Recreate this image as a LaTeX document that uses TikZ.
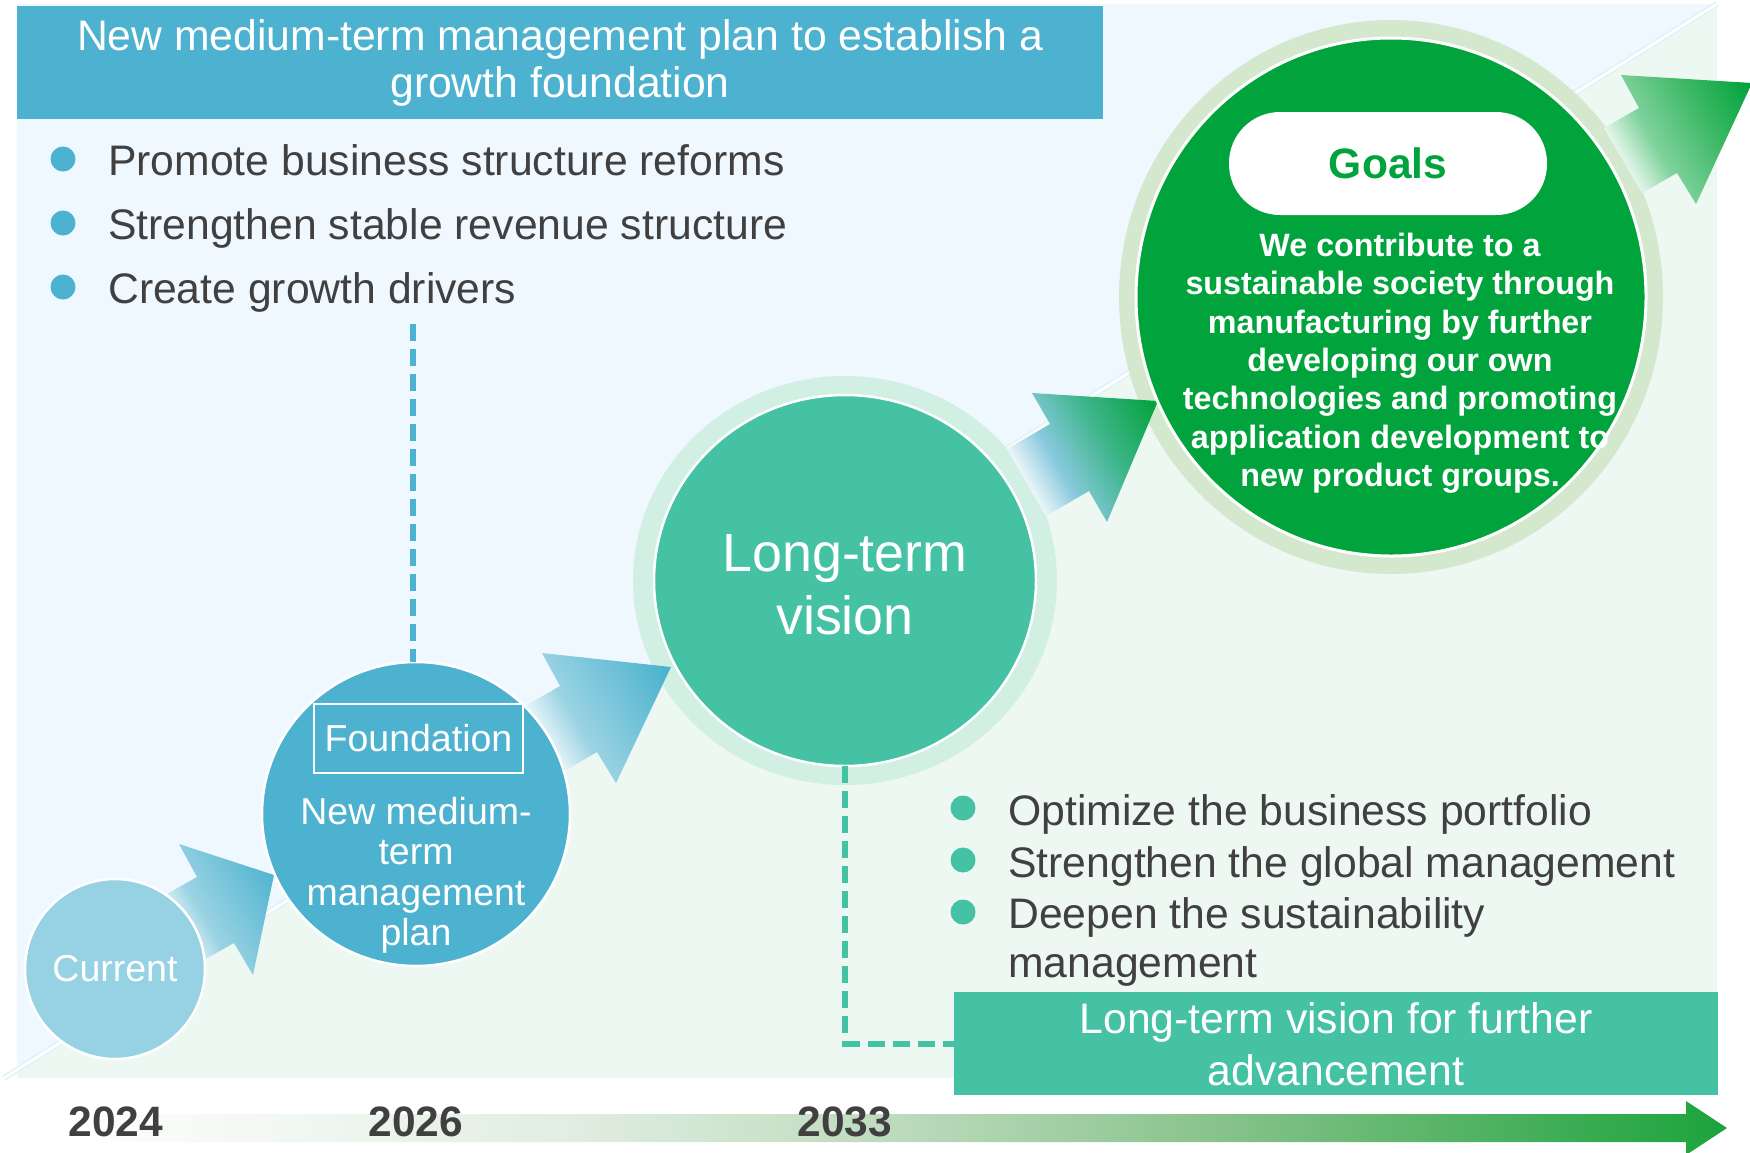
\documentclass[tikz,border=0pt]{standalone}
\usepackage{fontspec}
\setmainfont{Liberation Sans}
\usetikzlibrary{shapes.geometric,calc}
\definecolor{cblue}{HTML}{4DB2CF}
\definecolor{clight}{HTML}{96D2E4}
\definecolor{cmint}{HTML}{45C1A4}
\definecolor{cmintHalo}{HTML}{D2EFE3}
\definecolor{cgreen}{HTML}{00A33C}
\definecolor{cgreenHalo}{HTML}{D4E8CE}
\definecolor{bgblue}{HTML}{EFF8FE}
\definecolor{bggreen}{HTML}{EEF8F3}
\definecolor{diagcyan}{HTML}{E2F3F8}
\definecolor{ctext}{HTML}{404040}
\definecolor{tlA}{HTML}{E2EEE2}
\definecolor{tlB}{HTML}{BEDBBE}
\definecolor{tlC}{HTML}{86C28A}
\definecolor{tlD}{HTML}{1BA33C}
\definecolor{baA}{HTML}{9AD3E3}
\definecolor{baB}{HTML}{4DB2CF}
\definecolor{gaA}{HTML}{88C9DD}
\definecolor{gaB}{HTML}{3DB58A}
\definecolor{gaC}{HTML}{07A442}
\definecolor{oaA}{HTML}{7ED29C}
\definecolor{oaB}{HTML}{3DB865}
\definecolor{oaC}{HTML}{00A33C}
\pgfdeclarehorizontalshading{timeline}{100bp}{color(0bp)=(white); color(25bp)=(white); color(40bp)=(tlA); color(50bp)=(tlB); color(60bp)=(tlC); color(75bp)=(tlD); color(100bp)=(tlD)}
\pgfdeclarehorizontalshading{bluearrow}{100bp}{color(0bp)=(white); color(28bp)=(white); color(44bp)=(baA); color(80bp)=(baB); color(100bp)=(baB)}
\pgfdeclarehorizontalshading{mixarrow}{100bp}{color(0bp)=(white); color(26bp)=(white); color(41bp)=(gaA); color(60bp)=(gaB); color(80bp)=(gaC); color(100bp)=(gaC)}
\pgfdeclarehorizontalshading{greenarrow}{100bp}{color(0bp)=(white); color(26bp)=(white); color(42bp)=(oaA); color(62bp)=(oaB); color(82bp)=(oaC); color(100bp)=(oaC)}
\begin{document}
\begin{tikzpicture}[x=1pt,y=-1pt,
  txt/.style={font=\fontsize{42.7}{47}\selectfont, text=ctext, inner sep=0pt, anchor=base west},
  wtxt/.style={font=\fontsize{42.7}{47}\selectfont, text=white, inner sep=0pt, anchor=base},
  gtxt/.style={font=\fontsize{32.3}{38}\selectfont\bfseries, text=white, inner sep=0pt, anchor=base},
  ftxt/.style={font=\fontsize{37.5}{40}\selectfont, text=white, inner sep=0pt, anchor=base},
  vtxt/.style={font=\fontsize{53.8}{63}\selectfont, text=white, inner sep=0pt, anchor=base},
  year/.style={font=\fontsize{42.5}{47}\selectfont\bfseries, text=ctext, inner sep=0pt, anchor=base},
  dotb/.style={circle, fill=cblue, minimum size=25pt, inner sep=0pt},
  dotg/.style={circle, fill=cmint, minimum size=25pt, inner sep=0pt},
  disc/.style={ellipse, inner sep=0pt, outer sep=0pt, draw=white, line width=2.5pt},
  halo/.style={ellipse, inner sep=0pt, outer sep=0pt},
  dashline/.style={line width=6pt, dash pattern=on 17pt off 8pt}]
\useasboundingbox (0,0) rectangle (1750,1152);
% background
\fill[bggreen] (17,4) rectangle (1717,1078);
\fill[bgblue] (17,4) -- (1717,4) -- (17,1070) -- cycle;
\draw[diagcyan, line width=6pt] (4,1078) -- (1717,4);
\draw[white, line width=2.5pt] (4,1078) -- (1717,4);
% timeline
\shade[shading=timeline] (57,1114) -- (1686,1114) -- (1686,1101) -- (1727,1128) -- (1686,1155) -- (1686,1142) -- (57,1142) -- cycle;
% halos
\node[halo, fill=cmintHalo, minimum width=424pt, minimum height=409pt] (lthalo) at (845,580.5) {};
\node[halo, fill=cgreenHalo, minimum width=544pt, minimum height=554pt] (ghalo) at (1391,297) {};
% arrows
\shade[shading=bluearrow, shading angle=30] (158,899) -- (197,877) -- (179,844) -- (274,875) -- (253,975) -- (234,943) -- (195,965) -- cycle;
\shade[shading=bluearrow, shading angle=30] (517,711) -- (560,686) -- (542,653) -- (671,667) -- (616,783) -- (597,752) -- (554,777) -- cycle;
\shade[shading=mixarrow, shading angle=30] (1007,449) -- (1050,424) -- (1032,393) -- (1158,401) -- (1107,522) -- (1089,491) -- (1046,516) -- cycle;
\shade[shading=greenarrow, shading angle=30] (1604,128) -- (1639,108) -- (1621,75) -- (1752,83) -- (1696,204) -- (1677,173) -- (1642,193) -- cycle;
% circles
\node[disc, fill=clight, minimum width=180pt, minimum height=180pt,
  font=\fontsize{37.5}{42}\selectfont, text=white] (cur) at (115,969) {Current};
\node[disc, fill=cblue, minimum width=308pt, minimum height=304pt] (found) at (416,814) {};
\node[disc, fill=cmint, minimum width=382pt, minimum height=371pt] (lt) at (845,580.5) {};
\node[disc, fill=cgreen, line width=3pt, minimum width=510pt, minimum height=518pt] (goal) at (1391,297) {};
% top banner
\node[rectangle, fill=cblue, inner sep=0pt, minimum width=1086pt, minimum height=113pt] (banner) at (560,62.5) {};
\node[wtxt] (t1) at (560,50) {New medium-term management plan to establish a};
\node[wtxt] (t2) at (560,97) {growth foundation};
% top bullets
\node[dotb] (b1) at (63,159) {};
\node[dotb] (b2) at (63,223) {};
\node[dotb] (b3) at (63,287) {};
\node[txt] (l1) at (108,175) {Promote business structure reforms};
\node[txt] (l2) at (108,239) {Strengthen stable revenue structure};
\node[txt] (l3) at (108,303) {Create growth drivers};
% foundation contents
\node[rectangle, draw=white, line width=2pt, inner sep=0pt, minimum width=209pt, minimum height=69pt,
  font=\fontsize{37.5}{42}\selectfont, text=white] (fbox) at (418.5,738.5) {Foundation};
\node[ftxt] (f1) at (416,824) {New medium-};
\node[ftxt] (f2) at (416,864.5) {term};
\node[ftxt] (f3) at (416,905) {management};
\node[ftxt] (f4) at (416,945) {plan};
% long-term vision text
\node[vtxt] (v1) at (845,571) {Long-term};
\node[vtxt] (v2) at (845,634) {vision};
% goals
\node[rectangle, fill=white, rounded corners=51pt, inner sep=0pt, minimum width=318pt, minimum height=103pt,
  font=\fontsize{42.5}{47}\selectfont\bfseries, text=cgreen] (gpill) at (1388,163.5) {Goals};
\node[gtxt] (g1) at (1400,256) {We contribute to a};
\node[gtxt] (g2) at (1400,294.5) {sustainable society through};
\node[gtxt] (g3) at (1400,333) {manufacturing by further};
\node[gtxt] (g4) at (1400,371) {developing our own};
\node[gtxt] (g5) at (1400,409.5) {technologies and promoting};
\node[gtxt] (g6) at (1400,448) {application development to};
\node[gtxt] (g7) at (1400,486) {new product groups.};
% bottom bullets
\node[dotg] (d1) at (963,808) {};
\node[dotg] (d2) at (963,860) {};
\node[dotg] (d3) at (963,912) {};
\node[txt] (m1) at (1008,825) {Optimize the business portfolio};
\node[txt] (m2) at (1008,877) {Strengthen the global management};
\node[txt] (m3) at (1008,928) {Deepen the sustainability};
\node[txt] (m4) at (1008,977) {management};
% long-term box
\node[rectangle, fill=cmint, inner sep=0pt, minimum width=764pt, minimum height=103pt] (ltbox) at (1336,1043.5) {};
\node[wtxt] (x1) at (1336,1033) {Long-term vision for further};
\node[wtxt] (x2) at (1336,1085) {advancement};
% dashed connectors
\coordinate (bluetop) at (413,324);
\draw[dashline, cblue] (bluetop) -- (bluetop |- found.north);
\draw[dashline, cmint] (lt.south) |- (ltbox.west);
% years
\node[year] (y1) at (116,1136) {2024};
\node[year] (y2) at (416,1136) {2026};
\node[year] (y3) at (845,1136) {2033};
\end{tikzpicture}
\end{document}
